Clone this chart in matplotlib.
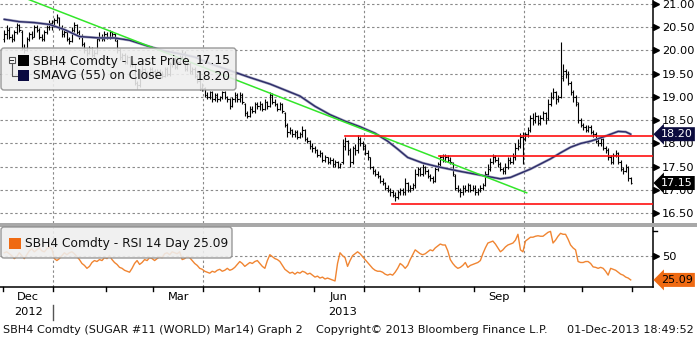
import numpy as np
import pandas as pd
import matplotlib
matplotlib.use('Agg')
import matplotlib.pyplot as plt
import matplotlib.transforms as mtransforms
from matplotlib.patches import Rectangle, FancyBboxPatch

# sessions (ICE US calendar)
holidays = ['2012-12-25', '2013-01-01', '2013-01-21', '2013-02-18', '2013-03-29',
            '2013-05-27', '2013-07-04', '2013-09-02', '2013-11-28']
dates = pd.bdate_range('2012-12-03', '2013-11-29')
dates = dates[~dates.isin(pd.to_datetime(holidays))]

# SBH4 daily bars, one line per month
close = [
    20.35, 20.45, 20.30, 20.25, 20.40, 20.55, 20.45, 20.05, 20.00, 20.25, 20.35, 20.30, 20.50, 20.45, 20.30, 20.25, 20.40, 20.50, 20.60, 20.55,
    20.65, 20.72, 20.50, 20.35, 20.40, 20.25, 20.20, 20.45, 20.55, 20.40, 20.30, 20.15, 20.00, 19.95, 20.05, 19.90, 19.95, 20.25, 20.30, 20.25, 20.35,
    20.30, 20.40, 20.35, 20.25, 20.00, 19.85, 19.90, 19.75, 19.85, 19.70, 19.75, 19.30, 19.25, 19.55, 19.60, 19.50, 19.45, 19.60, 19.55,
    19.45, 19.55, 19.50, 19.45, 19.60, 19.50, 19.70, 19.80, 19.65, 19.75, 19.85, 19.95, 19.60, 19.70, 19.55, 19.60, 19.45, 19.35, 19.20, 19.25,
    19.05, 19.00, 19.10, 18.95, 19.05, 18.95, 19.00, 19.10, 19.00, 18.95, 18.80, 18.95, 19.05, 18.95, 19.05, 18.90, 18.65, 18.60, 18.75, 18.70, 18.85, 18.80,
    18.85, 18.75, 18.90, 18.80, 19.05, 18.90, 18.85, 18.75, 18.85, 18.70, 18.40, 18.25, 18.30, 18.20, 18.25, 18.15, 18.20, 18.30, 18.10, 18.05, 17.95, 17.90,
    17.85, 17.75, 17.80, 17.65, 17.70, 17.60, 17.65, 17.55, 17.60, 17.50, 17.55, 17.95, 18.05, 17.85, 17.60, 17.90, 17.85, 18.10, 18.00, 17.95,
    17.80, 17.70, 17.50, 17.40, 17.35, 17.30, 17.20, 17.15, 17.05, 17.00, 16.95, 16.90, 16.85, 16.95, 17.00, 16.95, 17.15, 17.00, 17.05, 17.10, 17.35, 17.45,
    17.35, 17.50, 17.40, 17.30, 17.25, 17.20, 17.45, 17.55, 17.70, 17.65, 17.70, 17.65, 17.60, 17.35, 17.05, 17.00, 16.95, 17.05, 17.00, 17.10, 17.00, 17.05,
    16.95, 17.00, 17.05, 17.10, 17.35, 17.45, 17.60, 17.70, 17.65, 17.55, 17.45, 17.40, 17.50, 17.65, 17.60, 17.70, 17.90, 17.95, 18.15, 18.10,
    18.20, 18.30, 18.55, 18.50, 18.60, 18.45, 18.55, 18.65, 18.50, 18.85, 19.00, 19.10, 18.95, 19.00, 19.40, 19.55, 19.50, 19.30, 19.10, 19.00, 18.90, 18.50, 18.40,
    18.35, 18.30, 18.35, 18.25, 18.20, 18.05, 18.00, 18.10, 17.90, 17.85, 17.70, 17.60, 17.75, 17.80, 17.60, 17.45, 17.40, 17.50, 17.25, 17.15,
]
opens = [
    20.25, 20.35, 20.45, 20.30, 20.25, 20.40, 20.55, 20.40, 20.05, 20.00, 20.25, 20.35, 20.30, 20.50, 20.45, 20.30, 20.25, 20.40, 20.50, 20.60,
    20.55, 20.65, 20.70, 20.50, 20.35, 20.40, 20.25, 20.20, 20.45, 20.55, 20.40, 20.30, 20.15, 20.00, 19.95, 20.05, 19.90, 19.95, 20.25, 20.30, 20.25,
    20.35, 20.30, 20.40, 20.35, 20.20, 20.00, 19.85, 19.90, 19.75, 19.85, 19.70, 19.70, 19.30, 19.25, 19.55, 19.60, 19.50, 19.45, 19.60,
    19.55, 19.45, 19.55, 19.50, 19.45, 19.60, 19.50, 19.70, 19.80, 19.65, 19.75, 19.85, 19.95, 19.60, 19.70, 19.55, 19.60, 19.45, 19.35, 19.20,
    19.20, 19.05, 19.00, 19.10, 18.95, 19.05, 18.95, 19.00, 19.10, 19.00, 18.95, 18.80, 18.95, 19.05, 18.95, 19.05, 18.85, 18.65, 18.60, 18.75, 18.70, 18.85,
    18.80, 18.85, 18.75, 18.90, 18.80, 19.05, 18.90, 18.85, 18.75, 18.85, 18.65, 18.40, 18.25, 18.30, 18.20, 18.25, 18.15, 18.20, 18.30, 18.10, 18.05, 17.95,
    17.90, 17.85, 17.75, 17.80, 17.65, 17.70, 17.60, 17.65, 17.55, 17.60, 17.50, 17.60, 17.95, 18.05, 17.85, 17.60, 17.90, 17.85, 18.10, 18.00,
    17.95, 17.80, 17.70, 17.50, 17.40, 17.35, 17.30, 17.20, 17.15, 17.05, 17.00, 16.95, 16.90, 16.85, 16.95, 17.00, 16.95, 17.15, 17.00, 17.05, 17.10, 17.35,
    17.45, 17.35, 17.50, 17.40, 17.30, 17.25, 17.20, 17.45, 17.55, 17.70, 17.65, 17.70, 17.65, 17.55, 17.30, 17.05, 17.00, 16.95, 17.05, 17.00, 17.10, 17.00,
    17.05, 16.95, 17.00, 17.05, 17.10, 17.35, 17.45, 17.60, 17.70, 17.65, 17.55, 17.45, 17.40, 17.50, 17.65, 17.60, 17.70, 17.90, 17.95, 18.15,
    18.10, 18.20, 18.30, 18.55, 18.50, 18.60, 18.45, 18.55, 18.65, 18.55, 18.85, 19.00, 19.10, 18.95, 19.00, 19.45, 19.55, 19.50, 19.30, 19.10, 19.00, 18.85, 18.50,
    18.40, 18.35, 18.30, 18.35, 18.25, 18.20, 18.05, 18.00, 18.10, 17.90, 17.85, 17.70, 17.60, 17.75, 17.80, 17.60, 17.45, 17.40, 17.50, 17.25,
]
high = [
    20.45, 20.55, 20.50, 20.35, 20.45, 20.60, 20.58, 20.45, 20.15, 20.30, 20.40, 20.42, 20.55, 20.55, 20.48, 20.35, 20.45, 20.55, 20.65, 20.66,
    20.70, 20.78, 20.72, 20.55, 20.45, 20.42, 20.30, 20.50, 20.62, 20.58, 20.45, 20.35, 20.18, 20.05, 20.10, 20.08, 20.00, 20.30, 20.40, 20.35, 20.42,
    20.40, 20.45, 20.42, 20.38, 20.25, 20.05, 19.95, 19.95, 19.90, 19.88, 19.80, 19.72, 19.35, 19.60, 19.68, 19.62, 19.55, 19.65, 19.65,
    19.60, 19.60, 19.60, 19.55, 19.65, 19.65, 19.75, 19.85, 19.85, 19.80, 19.90, 20.00, 19.98, 19.75, 19.75, 19.65, 19.65, 19.50, 19.40, 19.30,
    19.22, 19.10, 19.12, 19.12, 19.08, 19.08, 19.02, 19.13, 19.12, 19.03, 18.98, 19.00, 19.10, 19.08, 19.10, 19.08, 18.88, 18.70, 18.80, 18.80, 18.90, 18.90,
    18.92, 18.88, 18.95, 18.92, 19.10, 19.08, 18.95, 18.88, 18.90, 18.88, 18.68, 18.45, 18.35, 18.32, 18.30, 18.28, 18.25, 18.38, 18.32, 18.15, 18.08, 18.00,
    17.95, 17.88, 17.85, 17.82, 17.75, 17.72, 17.70, 17.68, 17.65, 17.62, 17.58, 18.10, 18.15, 18.08, 17.90, 17.95, 17.98, 18.18, 18.15, 18.05,
    17.98, 17.85, 17.72, 17.52, 17.45, 17.40, 17.32, 17.25, 17.18, 17.10, 17.05, 17.00, 16.95, 17.00, 17.05, 17.05, 17.25, 17.18, 17.10, 17.15, 17.45, 17.50,
    17.50, 17.55, 17.52, 17.45, 17.35, 17.30, 17.50, 17.60, 17.75, 17.78, 17.78, 17.75, 17.72, 17.60, 17.35, 17.10, 17.05, 17.10, 17.10, 17.15, 17.12, 17.10,
    17.10, 17.05, 17.10, 17.15, 17.40, 17.55, 17.68, 17.78, 17.75, 17.70, 17.60, 17.50, 17.58, 17.70, 17.70, 17.80, 18.00, 18.10, 18.22, 18.25,
    18.25, 18.35, 18.62, 18.65, 18.68, 18.62, 18.62, 18.70, 18.68, 18.95, 19.10, 19.20, 19.12, 19.05, 20.18, 19.72, 19.60, 19.55, 19.35, 19.15, 19.05, 18.90, 18.55,
    18.45, 18.40, 18.40, 18.40, 18.30, 18.25, 18.12, 18.15, 18.12, 17.95, 17.90, 17.75, 17.80, 17.85, 17.82, 17.65, 17.50, 17.55, 17.52, 17.28,
]
low = [
    20.18, 20.25, 20.25, 20.18, 20.20, 20.35, 20.40, 20.00, 19.95, 19.98, 20.20, 20.25, 20.28, 20.40, 20.25, 20.20, 20.20, 20.35, 20.45, 20.45,
    20.50, 20.60, 20.45, 20.30, 20.30, 20.20, 20.15, 20.18, 20.40, 20.35, 20.25, 20.10, 19.95, 19.88, 19.92, 19.85, 19.85, 19.92, 20.20, 20.20, 20.20,
    20.25, 20.25, 20.30, 20.20, 19.95, 19.80, 19.80, 19.70, 19.72, 19.65, 19.65, 19.25, 19.18, 19.22, 19.50, 19.45, 19.40, 19.42, 19.50,
    19.40, 19.40, 19.45, 19.40, 19.42, 19.45, 19.45, 19.65, 19.60, 19.60, 19.70, 19.80, 19.55, 19.55, 19.50, 19.50, 19.40, 19.30, 19.15, 19.12,
    19.00, 18.95, 18.95, 18.90, 18.92, 18.90, 18.92, 18.95, 18.95, 18.90, 18.75, 18.78, 18.90, 18.90, 18.90, 18.85, 18.60, 18.55, 18.58, 18.65, 18.65, 18.75,
    18.72, 18.70, 18.72, 18.75, 18.78, 18.85, 18.80, 18.70, 18.72, 18.65, 18.35, 18.15, 18.20, 18.15, 18.15, 18.10, 18.12, 18.15, 18.05, 18.00, 17.88, 17.82,
    17.80, 17.70, 17.70, 17.60, 17.60, 17.55, 17.55, 17.50, 17.50, 17.47, 17.47, 17.55, 17.85, 17.75, 17.50, 17.55, 17.75, 17.80, 17.95, 17.85,
    17.75, 17.65, 17.45, 17.35, 17.30, 17.25, 17.15, 17.10, 17.00, 16.95, 16.88, 16.85, 16.77, 16.80, 16.90, 16.90, 16.90, 16.95, 16.95, 17.00, 17.05, 17.30,
    17.30, 17.30, 17.35, 17.25, 17.20, 17.15, 17.18, 17.40, 17.50, 17.60, 17.60, 17.60, 17.55, 17.30, 17.00, 16.95, 16.85, 16.90, 16.95, 16.95, 16.95, 16.97,
    16.90, 16.90, 16.95, 17.00, 17.08, 17.30, 17.40, 17.55, 17.60, 17.50, 17.40, 17.35, 17.35, 17.45, 17.55, 17.55, 17.65, 17.85, 17.90, 17.55,
    18.05, 18.15, 18.25, 18.40, 18.45, 18.40, 18.40, 18.50, 18.42, 18.50, 18.80, 18.95, 18.85, 18.90, 18.98, 19.35, 19.40, 19.25, 19.05, 18.90, 18.80, 18.45, 18.35,
    18.30, 18.25, 18.25, 18.20, 18.15, 18.00, 17.95, 17.95, 17.85, 17.80, 17.65, 17.55, 17.55, 17.70, 17.55, 17.40, 17.35, 17.38, 17.20, 17.12,
]

# 55-day simple average on close, read weekly (session index, value)
sma_idx = [0, 6, 12, 18, 24, 30, 38, 44, 50, 57, 64, 70, 76, 82, 90, 98, 106, 112, 118, 124,
           130, 136, 142, 148, 153, 157, 161, 167, 173, 182, 192, 198, 202, 206, 210, 214, 218,
           222, 226, 230, 234, 238, 242, 245, 248, 250]
sma_val = [20.67, 20.62, 20.60, 20.56, 20.45, 20.30, 20.27, 20.27, 20.22, 20.10, 19.99, 19.93,
           19.86, 19.72, 19.57, 19.42, 19.28, 19.15, 19.02, 18.80, 18.62, 18.48, 18.36, 18.22,
           18.05, 17.88, 17.70, 17.58, 17.50, 17.40, 17.30, 17.24, 17.27, 17.36, 17.45, 17.56,
           17.67, 17.80, 17.92, 18.00, 18.05, 18.12, 18.20, 18.26, 18.25, 18.20]

# RSI 14 day
rsi = [
    53, 54, 52, 50, 47, 49, 53, 50, 47, 51, 55, 57, 54, 56, 58, 55, 54, 57, 59, 57,
    47, 45, 47, 50, 53, 51, 53, 54, 52, 49, 46, 42, 40, 37, 39, 43, 45, 44, 46, 45,
    48, 47, 50, 46, 43, 41, 38, 37, 35, 34, 33, 37, 42, 45, 41, 43, 46, 45, 48, 47,
    45, 47, 49, 48, 52, 53, 51, 54, 53, 52, 54, 46, 47, 49, 48, 45, 42, 40, 37, 36,
    34, 33, 32, 34, 33, 35, 36, 34, 35, 37, 35, 36, 38, 41, 44, 42, 39, 41, 43, 42,
    44, 45, 42, 39, 37, 45, 51, 49, 47, 46, 44, 40, 36, 34, 32, 33, 31, 33, 32, 34,
    33, 31, 32, 30, 28, 29, 27, 28, 26, 27, 26, 25, 24, 42, 53, 50, 48, 39, 45, 50,
    52, 54, 52, 49, 46, 43, 40, 37, 35, 34, 34, 33, 31, 30, 31, 30, 33, 37, 42, 40,
    37, 40, 46, 51, 56, 54, 52, 51, 52, 54, 56, 55, 58, 60, 62, 61, 61, 55, 46, 42,
    39, 37, 38, 40, 43, 38, 40, 41, 42, 43, 45, 52, 58, 63, 64, 65, 62, 58, 54, 56,
    59, 61, 62, 63, 66, 72, 56, 54, 65, 67, 69, 69, 70, 70.5, 70, 70, 72, 74, 75, 63,
    66, 70, 73, 72, 72, 67, 61, 58, 56, 44, 43, 43, 44, 44, 42, 38.5, 38, 37, 38, 37,
    34, 30, 37, 36, 35, 33, 31, 30, 28, 27, 25.09,
]

# drawn levels: trend line (session, price) and horizontal lines (price, first session)
trend_x = [0, 208.5]
trend_y = [21.30, 16.94]
levels = [(18.16, 136), (17.73, 173.5), (16.70, 154.7)]

price_ticks = [16.5, 17.0, 17.5, 18.0, 18.5, 19.0, 19.5, 20.0, 20.5, 21.0]
month_names = ['Dec', 'Mar', 'Jun', 'Sep']

W, H = 697, 339
fig = plt.figure(figsize=(W / 100, H / 100), dpi=100)
plt.rcParams['font.family'] = 'DejaVu Sans'
px = mtransforms.Affine2D().scale(1, -1).translate(0, H)  # top-left pixel coords

ax = fig.add_axes([0, 1 - 223 / H, 653 / W, 223 / H])
ax2 = fig.add_axes([0, 1 - 287 / H, 653 / W, 60 / H])

x = np.arange(len(close))
xl = (-1.7, 258.9)

# month boundaries from the session dates
mon = dates.to_period('M')
first = np.r_[0, np.nonzero(mon[1:] != mon[:-1])[0] + 1]
bounds = list(first - 0.5) + [len(dates) - 0.5]
quarters = [b for b, i in zip(bounds, list(first) + [len(dates)])
            if i < len(dates) and dates[i].month in (1, 4, 7, 10)]

grid = dict(color='#8a8a8a', lw=0.8, ls=(0, (2.2, 2.2)), zorder=0)
for a in (ax, ax2):
    a.set_xlim(*xl)
    for q in quarters:
        a.axvline(q, **grid)
    for s in ('left', 'top', 'bottom'):
        a.spines[s].set_visible(False)
    a.spines['right'].set_linewidth(1.1)
    a.yaxis.tick_right()
    a.tick_params(axis='y', length=0, pad=6.5, labelsize=8.2)
    a.set_xticks([])

# price panel
for p in price_ticks:
    ax.axhline(p, **grid)
ax.set_ylim(16.29, 21.086)
ax.set_yticks(price_ticks)
ax.set_yticklabels(['%.2f' % p for p in price_ticks])

ax.vlines(x, low, high, color='black', lw=0.8, zorder=3)
ax.hlines(opens, x - 0.5, x, color='black', lw=0.8, zorder=3)
ax.hlines(close, x, x + 0.5, color='black', lw=0.8, zorder=3)
ax.plot(sma_idx, sma_val, color='#a4a4c0', lw=1.9, zorder=4, solid_capstyle='round')
ax.plot(sma_idx, sma_val, color='#2c2c68', lw=1.0, zorder=4)
ax.plot(trend_x, trend_y, color='#33e62a', lw=1.1, zorder=4)
for lvl, start in levels:
    ax.plot([start, xl[1]], [lvl, lvl], color='#ff1010', lw=1.2, zorder=4)

blend = mtransforms.blended_transform_factory(ax.transAxes, ax.transData)
ax.plot(np.full(len(price_ticks), 1 + 3 / 653), price_ticks, '>', color='black', ms=4,
        transform=blend, clip_on=False)

# RSI panel
ax2.set_ylim(17.8, 79.5)
ax2.axhline(50, **grid)
ax2.plot(x, rsi, color='#f08532', lw=1.0, zorder=3)
ax2.set_yticks([50])
ax2.set_yticklabels(['50'])
ax2.spines['bottom'].set_visible(True)
ax2.spines['bottom'].set_linewidth(1.1)
blend2 = mtransforms.blended_transform_factory(ax2.transAxes, ax2.transData)
ax2.plot([1 + 3 / 653], [50], '>', color='black', ms=4, transform=blend2, clip_on=False)
ax2.plot([1, 1 + 4 / 653], [75, 75], color='black', lw=1, transform=blend2, clip_on=False)

# month ticks and date labels
tb = mtransforms.blended_transform_factory(ax2.transData, ax2.transAxes)
for b in bounds:
    ax2.plot([b, b], [0, -4 / 60], color='black', lw=1, transform=tb, clip_on=False)
label_months = [i for i in range(len(first)) if dates[first[i]].month in (12, 3, 6, 9)]
for k, i in enumerate(label_months):
    c = (bounds[i] + bounds[i + 1]) / 2
    ax2.text(c, -10 / 60, month_names[k], transform=tb, ha='center', va='center', fontsize=8.2)
ax2.text((bounds[0] + bounds[1]) / 2, -25 / 60, '2012', transform=tb, ha='center', va='center', fontsize=8.2)
ax2.text((bounds[1] + bounds[-1]) / 2, -25 / 60, '2013', transform=tb, ha='center', va='center', fontsize=8.2)
ax2.plot([bounds[1], bounds[1]], [-18 / 60, -33 / 60], color='#555555', lw=1, transform=tb, clip_on=False)

# panel separator
fig.add_artist(Rectangle((0, 223), W, 4, transform=px, fc='#a8a8a8', ec='none', zorder=6))


def tag(axis, tr, y, text, fc, tc):
    axis.text(1 + 8 / 653, y, text, transform=tr, ha='left', va='center', fontsize=8.0,
              color=tc, zorder=10, clip_on=False,
              bbox=dict(boxstyle='larrow,pad=0.18', fc=fc, ec='none'))


tag(ax, blend, close[-1], '%.2f' % close[-1], 'black', 'white')
tag(ax, blend, sma_val[-1], '%.2f' % sma_val[-1], '#0c0c3e', 'white')
tag(ax2, blend2, rsi[-1], '%.2f' % rsi[-1], '#ef6a12', 'black')

# legends
box = dict(transform=px, fc='#eeeeee', ec='#8c8c8c', lw=1, alpha=0.88, zorder=7)
fig.add_artist(FancyBboxPatch((1, 48), 235, 42, boxstyle='round,pad=0,rounding_size=3', **box))
fig.add_artist(FancyBboxPatch((1, 227), 231, 31, boxstyle='round,pad=0,rounding_size=3', **box))

fig.add_artist(Rectangle((8.5, 56.5), 6, 6, transform=px, fc='white', ec='#555555', lw=0.8, zorder=8))
fig.add_artist(plt.Line2D([10, 13], [59.5, 59.5], transform=px, color='#333333', lw=0.8, zorder=9))
fig.add_artist(plt.Line2D([11.5, 11.5, 17], [62.5, 76, 76], transform=px, color='#555555', lw=0.8, zorder=8))
fig.add_artist(Rectangle((18, 55), 11, 11, transform=px, fc='black', ec='none', zorder=8))
fig.add_artist(Rectangle((18, 70), 11, 11, transform=px, fc='#0a0a40', ec='none', zorder=8))
fig.add_artist(Rectangle((9, 238), 12, 11, transform=px, fc='#ef6a12', ec='none', zorder=8))

lt = dict(transform=px, fontsize=8.8, color='#111111', va='center', zorder=9)
fig.text(33, 61, 'SBH4 Comdty - Last Price', ha='left', **lt)
fig.text(231, 61, '%.2f' % close[-1], ha='right', **lt)
fig.text(33, 76, 'SMAVG (55) on Close', ha='left', **lt)
fig.text(231, 76, '%.2f' % sma_val[-1], ha='right', **lt)
fig.text(25, 243.5, 'SBH4 Comdty - RSI 14 Day %.2f' % rsi[-1], ha='left', **lt)

ft = dict(transform=px, fontsize=8.1, color='#111111', va='center')
fig.text(3, 330, 'SBH4 Comdty (SUGAR #11 (WORLD) Mar14) Graph 2', ha='left', **ft)
fig.text(316, 330, 'Copyright\u00a9 2013 Bloomberg Finance L.P.', ha='left', **ft)
fig.text(694, 330, '01-Dec-2013 18:49:52', ha='right', **ft)

fig.savefig('out.png', dpi=100)
